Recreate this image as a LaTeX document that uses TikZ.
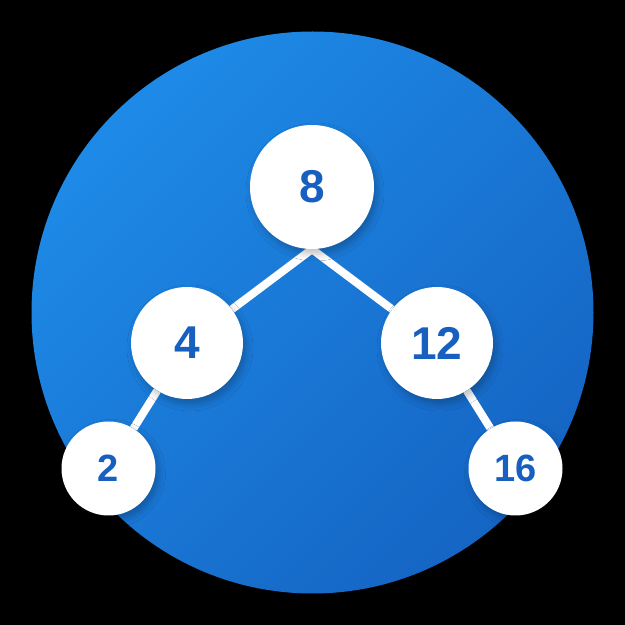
\documentclass[tikz,border=0pt]{standalone}
\usepackage{fontspec}
\setmainfont{Liberation Sans}
\usetikzlibrary{positioning,backgrounds,shadows.blur}
\definecolor{bluelight}{HTML}{1E8AE7}
\definecolor{bluedark}{HTML}{1565C4}
\definecolor{digit}{HTML}{1760BF}
\tikzset{
  key/.style={circle, fill=white, text=digit, font=\bfseries\fontsize{46}{46}\selectfont,
    blur shadow={shadow xshift=3pt, shadow yshift=-5pt, shadow blur radius=7pt, shadow opacity=25}},
  leaf/.style={key, minimum size=94pt, font=\bfseries\fontsize{38}{38}\selectfont},
  link/.style={white, line width=8pt}
}
\begin{document}
\begin{tikzpicture}[x=1pt, y=1pt, on grid]
	\useasboundingbox (0,0) rectangle (625,625);
	\node[key, minimum size=124pt] (n8) at (312,438) {8};
	\node[key, minimum size=112pt] (n4) [below left=156pt and 125pt of n8] {4};
	\node[key, minimum size=112pt] (n12) [below right=156pt and 125pt of n8] {12};
	\node[leaf] (n2) [below left=125.5pt and 78.5pt of n4] {2};
	\node[leaf] (n16) [below right=125.5pt and 78.5pt of n12] {16};
	\begin{scope}[on background layer]
	\fill[black] (0,0) rectangle (625,625);
	\shade[top color=bluelight, bottom color=bluedark, shading angle=45] (312.5,312.5) circle (281);
	\draw[link] (n8.south) -- (n4);
	\draw[link] (n8.south) -- (n12);
	\draw[link] (n4) -- (n2);
	\draw[link] (n12) -- (n16);
	\end{scope}
\end{tikzpicture}
\end{document}
